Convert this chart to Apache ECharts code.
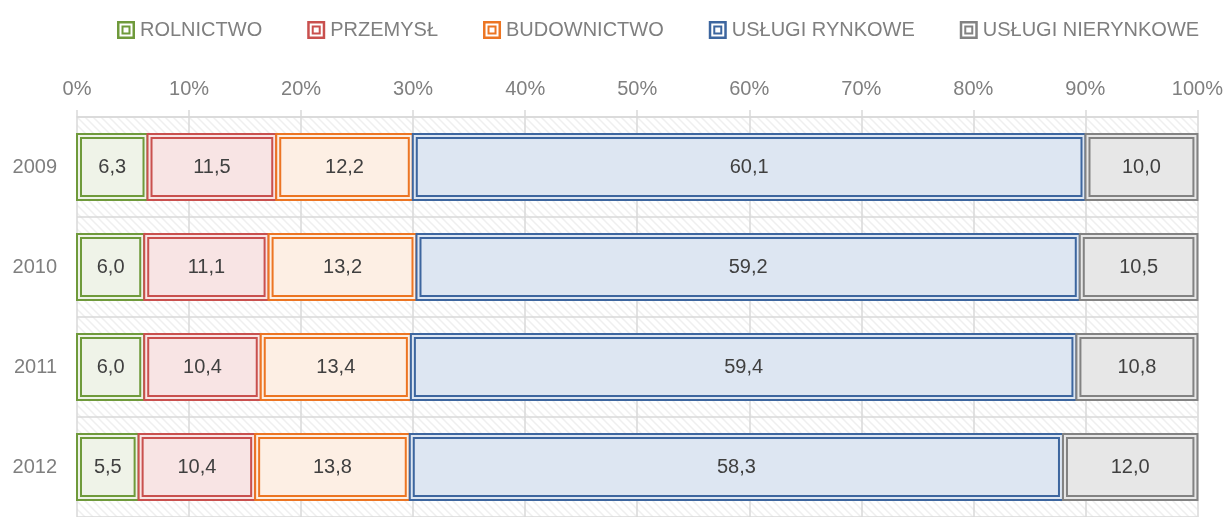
<!DOCTYPE html>
<html>
<head>
<meta charset="utf-8">
<script src="https://cdn.jsdelivr.net/npm/echarts@6/dist/echarts.min.js"></script>
<style>
  html, body { margin: 0; padding: 0; background: #fff; }
  #main { width: 1226px; height: 517px; }
</style>
</head>
<body>
<div id="main"></div>
<script>
// dane
const years = ['2009', '2010', '2011', '2012'];
const rolnictwo = [6.3, 6.0, 6.0, 5.5];
const przemysl = [11.5, 11.1, 10.4, 10.4];
const budownictwo = [12.2, 13.2, 13.4, 13.8];
const uslugiRynkowe = [60.1, 59.2, 59.4, 58.3];
const uslugiNierynkowe = [10.0, 10.5, 10.8, 12.0];
const sectorNames = ['ROLNICTWO', 'PRZEMYSŁ', 'BUDOWNICTWO', 'USŁUGI RYNKOWE', 'USŁUGI NIERYNKOWE'];

const sectors = [rolnictwo, przemysl, budownictwo, uslugiRynkowe, uslugiNierynkowe];
const lineColors = ['#6f9a3b', '#c9504e', '#ec7523', '#3d669f', '#828282'];
const fillColors = ['#eff3e8', '#f8e4e4', '#fdefe4', '#dde6f2', '#e7e7e7'];
const FONT = "'Liberation Sans', Arial, sans-serif";

// tło w ukośne paski
const hatch = document.createElement('canvas');
hatch.width = 8; hatch.height = 8;
(function () {
  const c = hatch.getContext('2d');
  c.fillStyle = '#fff';
  c.fillRect(0, 0, 8, 8);
  c.strokeStyle = '#efefef';
  c.lineWidth = 1.5;
  c.beginPath();
  c.moveTo(-2, -2); c.lineTo(10, 10);
  c.moveTo(-2, 6); c.lineTo(2, 10);
  c.moveTo(6, -2); c.lineTo(10, 2);
  c.stroke();
})();

// 100% skumulowane: poczatek i koniec kazdego odcinka
function buildData(k) {
  return years.map(function (y, i) {
    let total = 0, before = 0;
    sectors.forEach(function (s, j) {
      total += s[i];
      if (j < k) before += s[i];
    });
    const v = sectors[k][i];
    return [before / total * 100, (before + v) / total * 100, i, v];
  });
}

function makeRender(k) {
  return function (params, api) {
    const p0 = api.coord([api.value(0), api.value(2)]);
    const p1 = api.coord([api.value(1), api.value(2)]);
    const band = api.size([0, 1])[1];
    const h = band * 0.66;
    const x = p0[0], y = p0[1] - h / 2, w = p1[0] - p0[0];
    const ins = 4;
    const label = api.value(3).toFixed(1).replace('.', ',');
    return {
      type: 'group',
      children: [
        { type: 'rect', shape: { x: x, y: y, width: w, height: h },
          style: { fill: fillColors[k], stroke: lineColors[k], lineWidth: 2 } },
        { type: 'rect', shape: { x: x + ins, y: y + ins, width: w - ins * 2, height: h - ins * 2 },
          style: { fill: 'none', stroke: lineColors[k], lineWidth: 2 } },
        { type: 'text',
          style: { text: label, x: x + w / 2, y: p0[1],
            align: 'center', verticalAlign: 'middle',
            textAlign: 'center', textVerticalAlign: 'middle',
            fill: '#404040', fontSize: 20, fontFamily: FONT } }
      ]
    };
  };
}

const legendIcon = 'path://M0,0H18V18H0Z M2.5,2.5V15.5H15.5V2.5Z M4.5,4.5H13.5V13.5H4.5Z M6.5,6.5V11.5H11.5V6.5Z';

const option = {
  animation: false,
  legend: {
    left: 112,
    top: 15,
    width: 1110,
    itemWidth: 18,
    itemHeight: 18,
    itemGap: 45,
    icon: legendIcon,
    data: sectorNames,
    textStyle: { color: '#7f7f7f', fontSize: 20, fontFamily: FONT }
  },
  grid: {
    left: 77,
    right: 26,
    top: 117,
    bottom: -8,
    show: true,
    borderWidth: 0,
    backgroundColor: { image: hatch, repeat: 'repeat' }
  },
  xAxis: {
    type: 'value',
    position: 'top',
    min: 0,
    max: 100,
    interval: 10,
    axisLine: { show: true, lineStyle: { color: '#d9d9d9', width: 1.5 } },
    axisTick: { show: true, length: 7, lineStyle: { color: '#d9d9d9', width: 1.5 } },
    splitLine: { show: true, lineStyle: { color: '#d9d9d9', width: 1.5 } },
    axisLabel: { formatter: '{value}%', color: '#7f7f7f', fontSize: 20, fontFamily: FONT, margin: 18 }
  },
  yAxis: {
    type: 'category',
    inverse: true,
    data: years,
    axisLine: { show: false },
    axisTick: { show: false },
    splitLine: { show: true, lineStyle: { color: '#d9d9d9', width: 1.5 } },
    axisLabel: { color: '#7f7f7f', fontSize: 20, fontFamily: FONT, margin: 20 }
  },
  series: sectorNames.map(function (name, k) {
    return {
      name: name,
      type: 'custom',
      itemStyle: { color: lineColors[k] },
      encode: { x: [0, 1], y: 2 },
      renderItem: makeRender(k),
      data: buildData(k)
    };
  })
};

const chart = echarts.init(document.getElementById('main'));
chart.setOption(option);
</script>
</body>
</html>
